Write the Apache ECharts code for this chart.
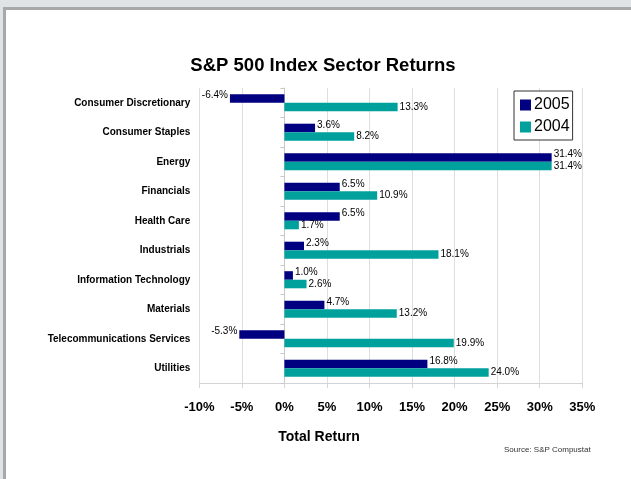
<!DOCTYPE html>
<html><head><meta charset="utf-8">
<script src="https://cdn.jsdelivr.net/npm/echarts@6/dist/echarts.min.js"></script>
<style>html,body{margin:0;padding:0;background:#fff;}#c{width:631px;height:479px;}</style>
</head><body><div id="c"></div>
<script>
const categories = ["Consumer Discretionary","Consumer Staples","Energy","Financials","Health Care","Industrials","Information Technology","Materials","Telecommunications Services","Utilities"];
const returns2005 = [-6.4, 3.6, 31.4, 6.5, 6.5, 2.3, 1.0, 4.7, -5.3, 16.8];
const returns2004 = [13.3, 8.2, 31.4, 10.9, 1.7, 18.1, 2.6, 13.2, 19.9, 24.0];
const xTicks = {min: -10, max: 35, interval: 5};

const SANS = '"Liberation Sans", Arial, sans-serif';

function mkData(arr, dy) {
  return arr.map(v => ({
    value: v,
    label: { position: v < 0 ? 'left' : 'right', offset: [0, dy] }
  }));
}
const labelStyle = {
  show: true, distance: 2, fontFamily: SANS, fontSize: 10, color: '#000',
  formatter: p => p.value.toFixed(1) + '%'
};

const chart = echarts.init(document.getElementById('c'), null, {renderer: 'canvas'});
chart.setOption({
  animation: false,
  backgroundColor: '#fff',
  title: {
    text: 'S&P 500 Index Sector Returns', left: 318, top: 51, textAlign: 'center',
    textStyle: { fontFamily: SANS, fontWeight: 'bold', fontSize: 18.5, color: '#000' }
  },
  legend: {
    data: ['2005', '2004'], orient: 'vertical', left: 514, top: 91,
    backgroundColor: '#fff', borderColor: '#333', borderWidth: 1,
    padding: [6, 3, 5, 6], itemWidth: 11, itemHeight: 11, itemGap: 6, icon: 'rect',
    textStyle: { fontFamily: SANS, fontSize: 16, color: '#000', padding: [0,0,0,-2] }
  },
  grid: { left: 199.3, right: 48.7, top: 88, bottom: 96, containLabel: false },
  xAxis: {
    type: 'value', min: xTicks.min, max: xTicks.max, interval: xTicks.interval,
    axisLine: { show: true, onZero: false, lineStyle: { color: '#d4d4d4' } },
    axisTick: { show: true, length: 5, lineStyle: { color: '#d4d4d4' } },
    splitLine: { show: true, lineStyle: { color: '#dedede' } },
    axisLabel: { margin: 18, fontFamily: SANS, fontWeight: 'bold', fontSize: 13, color: '#000',
      formatter: v => v + '%' }
  },
  yAxis: [{
    type: 'category', data: categories, inverse: true,
    axisLine: { show: false }, axisTick: { show: false },
    axisLabel: { margin: 9, fontFamily: SANS, fontWeight: 'bold', fontSize: 10, color: '#000' }
  }, {
    type: 'category', data: categories, inverse: true, position: 'left', offset: -85.1,
    axisLine: { show: true, lineStyle: { color: '#c8c8c8' } },
    axisTick: { show: true, length: 4, lineStyle: { color: '#c8c8c8' } },
    axisLabel: { show: false }
  }],
  series: [{
    name: '2005', type: 'bar', data: mkData(returns2005, -3),
    itemStyle: { color: '#000080' }, barGap: '0%', barCategoryGap: '42%',
    label: labelStyle
  }, {
    name: '2004', type: 'bar', data: mkData(returns2004, 0),
    itemStyle: { color: '#00a09d' }, barGap: '0%', barCategoryGap: '42%',
    label: labelStyle
  }],
  graphic: [
    { type: 'rect', shape: { x: 0, y: 0, width: 631, height: 10 }, style: { fill: '#dfe3e6' }, silent: true },
    { type: 'rect', shape: { x: 0, y: 0, width: 6, height: 479 }, style: { fill: '#dfe3e6' }, silent: true },
    { type: 'rect', shape: { x: 3, y: 7, width: 628, height: 3 }, style: { fill: '#a6a8aa' }, silent: true },
    { type: 'rect', shape: { x: 3, y: 7, width: 3, height: 472 }, style: { fill: '#a6a8aa' }, silent: true },
    { type: 'text', x: 319, y: 437, style: { text: 'Total Return', font: 'bold 14px ' + SANS, fill: '#000', textAlign: 'center', textVerticalAlign: 'middle' } },
    { type: 'text', x: 504, y: 450, style: { text: 'Source: S&P Compustat', font: '8px ' + SANS, fill: '#333', textVerticalAlign: 'middle' } }
  ]
});
</script></body></html>
